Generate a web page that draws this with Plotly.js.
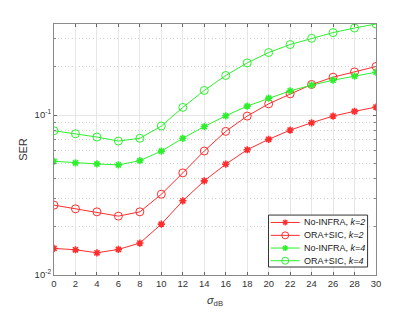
<!DOCTYPE html>
<html>
<head>
<meta charset="utf-8">
<script src="https://cdn.plot.ly/plotly-3.0.1.min.js"></script>
<style>html,body{margin:0;padding:0;background:#fff;}#chart{width:415px;height:312px;}</style>
</head>
<body>
<div id="chart"></div>
<script>
var sigma = [0,2,4,6,8,10,12,14,16,18,20,22,24,26,28,30];
var noInfraK2 = [0.01466,0.01438,0.01377,0.01445,0.01584,0.0208,0.0291,0.0388,0.0493,0.0607,0.0705,0.0806,0.0895,0.0986,0.1055,0.1122];
var oraSicK2  = [0.02734,0.02593,0.02483,0.02334,0.02483,0.0320,0.0435,0.0596,0.0791,0.0986,0.1176,0.1358,0.1554,0.1726,0.1863,0.2013];
var noInfraK4 = [0.0514,0.0502,0.0495,0.0488,0.0519,0.0595,0.0716,0.0848,0.0990,0.1138,0.1276,0.1418,0.1538,0.1653,0.1751,0.1855];
var oraSicK4  = [0.0798,0.0764,0.0729,0.0688,0.0716,0.0854,0.1117,0.1426,0.1769,0.2120,0.2461,0.2761,0.3020,0.3280,0.3504,0.3712];
var seriesNames = ['No-INFRA, <i>k=2</i>','ORA+SIC, <i>k=2</i>','No-INFRA, <i>k=4</i>','ORA+SIC, <i>k=4</i>'];
var xTicks = [0,2,4,6,8,10,12,14,16,18,20,22,24,26,28,30];
var yTicks = [0.01,0.1];
var yTickText = ['10<sup>-2</sup>','10<sup>-1</sup>'];
var yMinor = [0.02,0.03,0.04,0.05,0.06,0.07,0.08,0.09,0.2,0.3];

var RED = 'rgb(255,45,45)', GREEN = 'rgb(45,240,45)';
var seriesData = [noInfraK2, oraSicK2, noInfraK4, oraSicK4];
var colors = [RED, RED, GREEN, GREEN];
var symbols = ['asterisk-open','circle-open','asterisk-open','circle-open'];

var traces = seriesData.map(function(d,i){
  var isCircle = symbols[i] === 'circle-open';
  return {
    x: sigma, y: d, type:'scatter', mode:'lines+markers', name: seriesNames[i],
    line:{color:colors[i], width:1},
    marker:{symbol:symbols[i], size: isCircle ? 8 : 6, color:colors[i], line:{color:colors[i], width: isCircle ? 1 : 1.6}},
    showlegend:false
  };
});

var allY = [].concat(noInfraK2, oraSicK2, noInfraK4, oraSicK4);
var yMax = Math.max.apply(null, allY);

// manual legend (compact, MATLAB style)
var L = 54, R = 39.3, T = 24, B = 36.7, W = 415 - L - R, H = 312 - T - B;
function px2x(px){ return (px - L) / W; }
function py2y(py){ return (312 - B - py) / H; }
var shapes = [{type:'rect', xref:'paper', yref:'paper', x0:px2x(268.3), x1:px2x(367.3), y0:py2y(267.3), y1:py2y(215.3), fillcolor:'#fff', line:{color:'#333', width:1}, layer:'above'}];
var annotations = [];
var entryY = [222.7, 235.6, 248.3, 261.0];
entryY.forEach(function(py, i){
  var yy = py2y(py);
  shapes.push({type:'line', xref:'paper', yref:'paper', x0:px2x(270.5), x1:px2x(299.5), y0:yy, y1:yy, line:{color:colors[i], width:1}});
  var xc = px2x(285);
  if (symbols[i] === 'circle-open') {
    shapes.push({type:'circle', xref:'paper', yref:'paper', xsizemode:'pixel', ysizemode:'pixel', xanchor:xc, yanchor:yy, x0:-3.5, x1:3.5, y0:-3.5, y1:3.5, line:{color:colors[i], width:1}, fillcolor:'rgba(0,0,0,0)'});
  } else {
    var r = 3, d = 2.1;
    [[-r,0,r,0],[0,-r,0,r],[-d,-d,d,d],[-d,d,d,-d]].forEach(function(s){
      shapes.push({type:'line', xref:'paper', yref:'paper', xsizemode:'pixel', ysizemode:'pixel', xanchor:xc, yanchor:yy, x0:s[0], x1:s[2], y0:s[1], y1:s[3], line:{color:colors[i], width:1.4}});
    });
  }
  annotations.push({xref:'paper', yref:'paper', x:px2x(302), y:yy, xanchor:'left', yanchor:'middle', text:seriesNames[i], showarrow:false, font:{size:9, color:'#222', family:'Liberation Sans, Arial, sans-serif'}});
});

var layout = {
  width:415, height:312,
  margin:{l:L, r:R, t:T, b:B, pad:0},
  paper_bgcolor:'#fff', plot_bgcolor:'#fff',
  font:{family:'Liberation Sans, Arial, sans-serif', size:9, color:'#333'},
  showlegend:false,
  xaxis:{
    range:[0,30], tickmode:'array', tickvals:xTicks, ticks:'inside', ticklen:3, tickcolor:'#666',
    showline:true, linecolor:'#8a8a8a', linewidth:1, mirror:'ticks',
    showgrid:true, gridcolor:'#e6e6e6', gridwidth:1, zeroline:false,
    tickfont:{size:9.5, color:'#333'},
    title:{text:'<i>σ</i><sub>dB</sub>', font:{size:11, color:'#333'}, standoff:7}
  },
  yaxis:{
    type:'log', range:[-2, Math.log10(yMax)], tickmode:'array', tickvals:yTicks, ticktext:yTickText,
    ticks:'inside', ticklen:3, tickcolor:'#666',
    showline:true, linecolor:'#8a8a8a', linewidth:1, mirror:'ticks',
    showgrid:true, gridcolor:'#e6e6e6', gridwidth:1, zeroline:false,
    minor:{tickmode:'array', tickvals:yMinor, ticks:'inside', ticklen:2, tickcolor:'#888', showgrid:true, gridcolor:'#cfcfcf', griddash:'1px,2.5px', gridwidth:1},
    tickfont:{size:9.5, color:'#333'},
    title:{text:'SER', font:{size:11, color:'#333'}, standoff:4}
  },
  shapes:shapes,
  annotations:annotations
};

Plotly.newPlot('chart', traces, layout, {staticPlot:true, displayModeBar:false});
</script>
</body>
</html>
